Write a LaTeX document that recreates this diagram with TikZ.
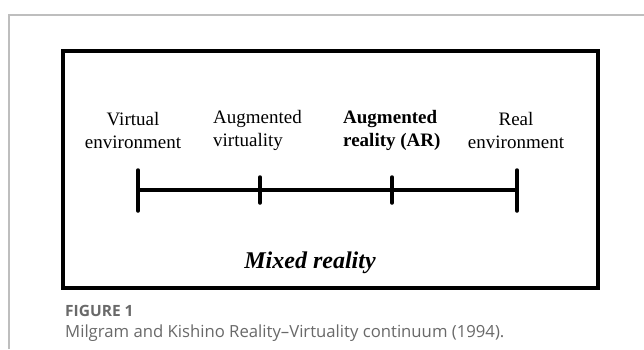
\documentclass[tikz,border=0pt]{standalone}
\usepackage{fontspec}
\setmainfont{Liberation Serif}
\newfontfamily\captionfont{Open Sans}
\usetikzlibrary{calc,positioning}
\definecolor{framegray}{RGB}{190,190,190}
\definecolor{captiongray}{RGB}{105,105,105}
\tikzset{
  stage/.style={inner sep=0,font=\fontsize{19}{23}\selectfont},
  thickline/.style={line width=3.5pt},
}

\begin{document}
\begin{tikzpicture}[x=1pt,y=-1pt]
  \useasboundingbox (0,0) rectangle (644,349);
  % draw page frame
  \draw[framegray,line width=1.5pt] (9,349) -- (9,15) -- (644,15);
  % draw outer box
  \draw[thickline] (63,51) rectangle (598,288);
  % draw continuum line
  \coordinate (virt) at (138,190);
  \coordinate (augv) at (260,190);
  \coordinate (augr) at (392,190);
  \coordinate (real) at (517,190);
  \draw[thickline] (virt) -- (real);
  \foreach \c in {virt,real} {
    \draw[thickline,line cap=round] ($(\c)+(0,-20)$) -- ($(\c)+(0,21)$);
  }
  \foreach \c in {augv,augr} {
    \draw[thickline,line cap=round] ($(\c)+(0,-13)$) -- ($(\c)+(0,13)$);
  }
  % labels over the line
  \node[stage,align=center] (virtlabel) at (133,130) {Virtual\\environment};
  \node[stage,align=left,anchor=west] (augvlabel) at (213,130) {Augmented\\virtuality};
  \node[stage,align=left,anchor=west,font=\fontsize{19}{23}\selectfont\bfseries] (augrlabel) at (343,130) {Augmented\\reality (AR)};
  \node[stage,align=center] (reallabel) at (516,130) {Real\\environment};
  \node[inner sep=0,font=\fontsize{24}{28}\selectfont\bfseries\itshape] (mixed) at (310,263) {Mixed reality};
  % caption
  \node[inner sep=0,anchor=west,text=captiongray,font=\captionfont\fontsize{15.5}{18}\selectfont\bfseries] (fig) at (65,311) {FIGURE 1};
  \node[inner sep=0,anchor=west,text=captiongray,font=\captionfont\fontsize{16.7}{20}\selectfont] (caption) at (65,333) {Milgram and Kishino Reality–Virtuality continuum (1994).};
\end{tikzpicture}
\end{document}
